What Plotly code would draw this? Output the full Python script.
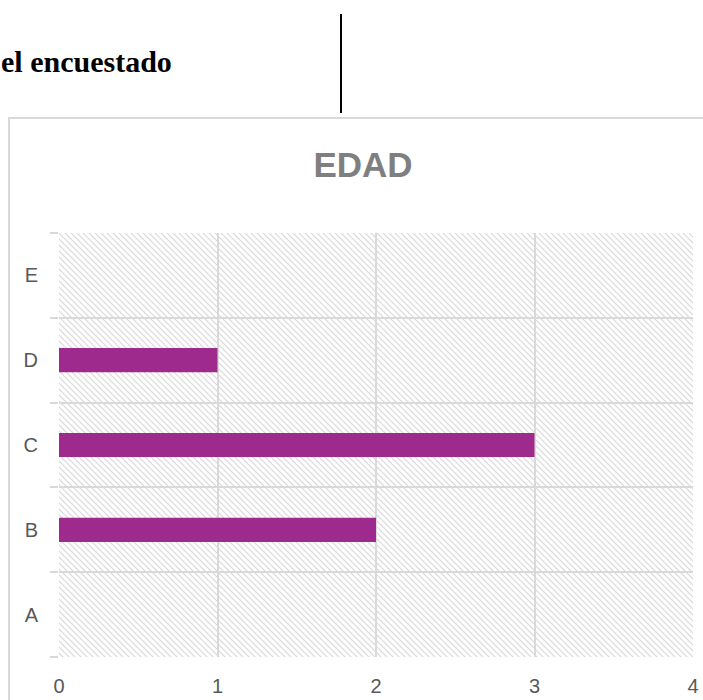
import base64
import plotly.graph_objects as go

categories = ["A", "B", "C", "D", "E"]
values = [0, 2, 3, 1, 0]
x_ticks = [0, 1, 2, 3, 4]
title_text = "EDAD"
header_text = "el encuestado"

W, H = 703, 700
L, R, T, B = 59, 10, 233, 43
PW, PH = W - L - R, H - T - B

def px_x(p):
    return (p - L) / PW

def px_y(p):
    return (H - B - p) / PH

svg = (
    f'<svg xmlns="http://www.w3.org/2000/svg" width="{PW}" height="{PH}">'
    '<defs><pattern id="p" width="6" height="6" patternUnits="userSpaceOnUse">'
    '<path d="M0,0 L6,6 M-1,5 L1,7 M5,-1 L7,1" stroke="#d8d8d8" stroke-width="1.2"/>'
    '</pattern></defs><rect width="100%" height="100%" fill="white"/>'
    '<rect width="100%" height="100%" fill="url(#p)"/></svg>'
)
src = "data:image/svg+xml;base64," + base64.b64encode(svg.encode()).decode()

fig = go.Figure(
    go.Bar(
        y=categories,
        x=values,
        orientation="h",
        width=0.285,
        marker=dict(color="#9E2A8E", line=dict(width=0)),
        hoverinfo="skip",
    )
)

fig.update_layout(
    width=W,
    height=H,
    autosize=False,
    margin=dict(l=L, r=R, t=T, b=B, pad=0, autoexpand=False),
    paper_bgcolor="white",
    plot_bgcolor="rgba(0,0,0,0)",
    showlegend=False,
    title=dict(
        text=title_text,
        x=363 / W,
        xanchor="center",
        y=1 - 165 / H,
        yanchor="middle",
        font=dict(family="Liberation Sans, Arial", size=35, color="#7f7f7f", weight="bold"),
    ),
    font=dict(family="Liberation Sans, Arial", size=20, color="#595959"),
    images=[
        dict(
            source=src,
            xref="paper",
            yref="paper",
            x=0,
            y=1,
            sizex=1,
            sizey=1,
            xanchor="left",
            yanchor="top",
            sizing="stretch",
            layer="below",
        )
    ],
    shapes=[
        dict(
            type="rect",
            xref="paper",
            yref="paper",
            x0=px_x(9),
            x1=px_x(710),
            y0=px_y(710),
            y1=px_y(118),
            line=dict(color="#d9d9d9", width=2),
            fillcolor="rgba(0,0,0,0)",
            layer="below",
        ),
        dict(
            type="line",
            xref="paper",
            yref="paper",
            x0=px_x(341),
            x1=px_x(341),
            y0=px_y(14),
            y1=px_y(113),
            line=dict(color="black", width=2),
        ),
    ],
    annotations=[
        dict(
            text="<b>" + header_text + "</b>",
            xref="paper",
            yref="paper",
            x=px_x(174),
            y=px_y(62),
            xanchor="right",
            yanchor="middle",
            showarrow=False,
            font=dict(family="Liberation Serif, Times New Roman", size=30, color="black"),
        )
    ],
)

fig.update_xaxes(
    range=[0, 4],
    tickvals=x_ticks,
    ticktext=[str(v) for v in x_ticks],
    showgrid=True,
    gridcolor="#d9d9d9",
    gridwidth=1.5,
    zeroline=False,
    showline=False,
    ticks="",
    ticklabelstandoff=15,
    automargin=False,
    fixedrange=True,
)

fig.update_yaxes(
    type="category",
    categoryorder="array",
    categoryarray=categories,
    range=[-0.5, 4.5],
    tickson="boundaries",
    showgrid=True,
    gridcolor="#d9d9d9",
    gridwidth=1.5,
    ticks="outside",
    ticklen=8,
    tickcolor="#d9d9d9",
    tickwidth=1.5,
    ticklabelstandoff=20,
    automargin=False,
    zeroline=False,
    showline=False,
    fixedrange=True,
)

fig.write_html(
    "out.html",
    config={"responsive": False, "displayModeBar": False},
    post_script="document.body.style.margin='0';",
)
